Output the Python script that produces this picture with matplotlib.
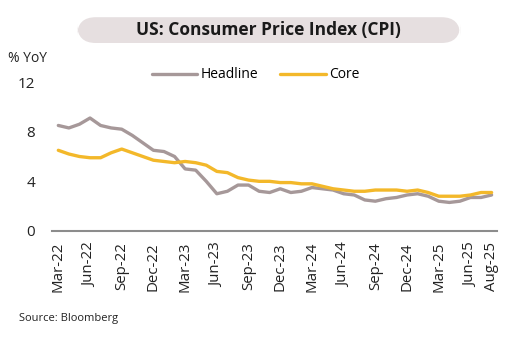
import matplotlib.pyplot as plt
from matplotlib.patches import FancyBboxPatch

plt.rcParams['font.family'] = ['Open Sans', 'DejaVu Sans']

# monthly, Mar-22 .. Aug-25
months = ['Mar-22', 'Apr-22', 'May-22', 'Jun-22', 'Jul-22', 'Aug-22', 'Sep-22', 'Oct-22',
          'Nov-22', 'Dec-22', 'Jan-23', 'Feb-23', 'Mar-23', 'Apr-23', 'May-23', 'Jun-23',
          'Jul-23', 'Aug-23', 'Sep-23', 'Oct-23', 'Nov-23', 'Dec-23', 'Jan-24', 'Feb-24',
          'Mar-24', 'Apr-24', 'May-24', 'Jun-24', 'Jul-24', 'Aug-24', 'Sep-24', 'Oct-24',
          'Nov-24', 'Dec-24', 'Jan-25', 'Feb-25', 'Mar-25', 'Apr-25', 'May-25', 'Jun-25',
          'Jul-25', 'Aug-25']
headline = [8.5, 8.3, 8.6, 9.1, 8.5, 8.3, 8.2, 7.7, 7.1, 6.5, 6.4, 6.0, 5.0, 4.9, 4.0, 3.0,
            3.2, 3.7, 3.7, 3.2, 3.1, 3.4, 3.1, 3.2, 3.5, 3.4, 3.3, 3.0, 2.9, 2.5, 2.4, 2.6,
            2.7, 2.9, 3.0, 2.8, 2.4, 2.3, 2.4, 2.7, 2.7, 2.9]
core = [6.5, 6.2, 6.0, 5.9, 5.9, 6.3, 6.6, 6.3, 6.0, 5.7, 5.6, 5.5, 5.6, 5.5, 5.3, 4.8,
        4.7, 4.3, 4.1, 4.0, 4.0, 3.9, 3.9, 3.8, 3.8, 3.6, 3.4, 3.3, 3.2, 3.2, 3.3, 3.3,
        3.3, 3.2, 3.3, 3.1, 2.8, 2.8, 2.8, 2.9, 3.1, 3.1]
tick_labels = ['Mar-22', 'Jun-22', 'Sep-22', 'Dec-22', 'Mar-23', 'Jun-23', 'Sep-23',
               'Dec-23', 'Mar-24', 'Jun-24', 'Sep-24', 'Dec-24', 'Mar-25', 'Jun-25', 'Aug-25']
y_ticks = [0, 4, 8, 12]

HEAD_COLOR = '#a69899'
CORE_COLOR = '#f3b82a'

fig = plt.figure(figsize=(5.32, 3.44), dpi=100)
ax = fig.add_axes([0.0977, 0.3285, 0.8363, 0.4331])

x = list(range(len(months)))
ax.plot(x, headline, color=HEAD_COLOR, linewidth=2.4, label='Headline', solid_capstyle='round')
ax.plot(x, core, color=CORE_COLOR, linewidth=2.4, label='Core', solid_capstyle='round')

ax.set_xlim(-0.6, 41.5)
ax.set_ylim(0, 12)
ax.set_yticks(y_ticks)
ax.set_xticks([months.index(m) for m in tick_labels])
ax.set_xticklabels(tick_labels, rotation=90)
ax.tick_params(axis='both', length=0, colors='#222222')
ax.tick_params(axis='y', pad=12, labelsize=11)
ax.tick_params(axis='x', pad=8, labelsize=10.8)
for side in ['top', 'right', 'left']:
    ax.spines[side].set_visible(False)
ax.spines['bottom'].set_color('#8c8c8c')
ax.spines['bottom'].set_linewidth(1.5)

fig.legend(loc='center', bbox_to_anchor=(0.48, 0.782), ncol=2, frameon=False,
           fontsize=10, handlelength=3.3, handletextpad=0.2, columnspacing=1.6)

fig.text(0.015, 0.83, '% YoY', fontsize=10, color='#222222', va='center')
fig.text(0.035, 0.075, 'Source: Bloomberg', fontsize=8, color='#222222', va='center')

# rounded title banner
pill = FancyBboxPatch((0.145, 0.875), 0.72, 0.075, boxstyle='round,pad=0,rounding_size=0.035',
                      transform=fig.transFigure, facecolor='#e6dfe0', edgecolor='none',
                      mutation_aspect=532 / 344)
fig.patches.append(pill)
fig.text(0.505, 0.912, 'US: Consumer Price Index (CPI)', fontsize=12.5, fontweight='bold',
         ha='center', va='center', color='#1a1a1a')

fig.savefig('out.png', dpi=100)
